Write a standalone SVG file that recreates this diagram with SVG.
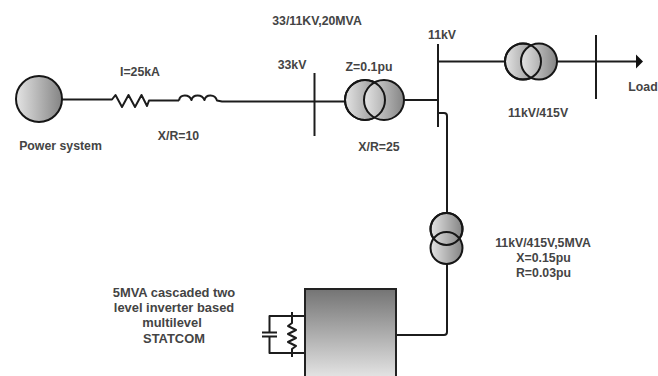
<svg xmlns="http://www.w3.org/2000/svg" width="658" height="376" viewBox="0 0 658 376">
<style>
text{font-family:"Liberation Sans",Arial,sans-serif;font-size:12.300px;font-weight:bold;fill:#444;text-anchor:middle}
#statcom text{font-size:12.900px}
.w{fill:none;stroke:#1c1c1c;stroke-width:2;stroke-linejoin:round}
.t{fill:url(#g);stroke:#161616;stroke-width:2}
.o{fill:none;stroke:#161616;stroke-width:2}
</style>
<defs>
<linearGradient id="g" x1="0" x2="1" y1="0" y2="0"><stop offset="0" stop-color="#e4e4e4"/><stop offset="1" stop-color="#848484"/></linearGradient>
<linearGradient id="gv" x1="0" x2="0" y1="0" y2="1"><stop offset="0" stop-color="#747474"/><stop offset="1" stop-color="#ececec"/></linearGradient>
</defs>
<rect width="658" height="376" fill="#fff"/>
<g id="connectors">
<path class="w" d="M62 99.500H112L115.500 95 122 107 128.500 95 135 107 141.500 95 147 106 149 100.500H179"/>
<path class="w" d="M179 100.500C180 94 189 94 191.500 100 193 94 202 94 204.500 100 206 94 215 94 217 100.500L222 101.500H345"/>
<path class="w" d="M404 100H438"/>
<path class="w" d="M438 61.500H505"/>
<path class="w" d="M557 61.500H636"/>
<path class="w" d="M438 113H444q3 0 3 3V212"/>
<path class="w" d="M447 264V332q0 3-3 3H396"/>
<path class="w" d="M305 316H269.500V332.500M269.500 336.500V353H305"/>
<path class="w" d="M292 312V323l-4 3 8 4-8 4 8 4-8 4 8 4-4 3V357"/>
</g>
<g id="power-system"><circle class="t" cx="39" cy="99" r="23"/><text x="60.500" y="150">Power system</text></g>
<g id="line-impedance-labels"><text x="140" y="76">I=25kA</text><text x="178.500" y="140">X/R=10</text></g>
<g id="bus-33kv"><path class="w" d="M314.500 73V136"/><text x="292" y="69">33kV</text></g>
<g id="transformer-t1">
<circle class="t" cx="365" cy="100" r="20"/><circle class="t" cx="384" cy="100" r="20"/><circle class="o" cx="365" cy="100" r="20"/>
<text x="369" y="71">Z=0.1pu</text><text x="379" y="150.500">X/R=25</text><text x="317" y="25">33/11KV,20MVA</text>
</g>
<g id="bus-11kv"><path class="w" d="M438 44V127"/><text x="442" y="39">11kV</text></g>
<g id="transformer-t2">
<circle class="t" cx="523" cy="61.500" r="18"/><circle class="t" cx="539" cy="61.500" r="18"/><circle class="o" cx="523" cy="61.500" r="18"/>
<text x="538" y="117">11kV/415V</text>
</g>
<g id="bus-load"><path class="w" d="M596 35V99"/><path d="M636 54.500L643 61.500L636 68.500Z" fill="#111"/><text x="643" y="91">Load</text></g>
<g id="transformer-t3">
<circle class="t" cx="446.500" cy="229" r="16"/><circle class="t" cx="446.500" cy="248" r="16"/><circle class="o" cx="446.500" cy="229" r="16"/>
<text x="543" y="247">11kV/415V,5MVA</text><text x="543.500" y="262">X=0.15pu</text><text x="543.500" y="277">R=0.03pu</text>
</g>
<g id="statcom">
<rect x="305" y="289" width="91" height="95" fill="url(#gv)" stroke="#222" stroke-width="2"/>
<path class="w" d="M262 332.500H277M262 336.500H277"/>
<text x="174" y="297">5MVA cascaded two</text><text x="174" y="312">level inverter based</text><text x="172" y="327">multilevel</text><text x="174" y="343">STATCOM</text>
</g>
</svg>
